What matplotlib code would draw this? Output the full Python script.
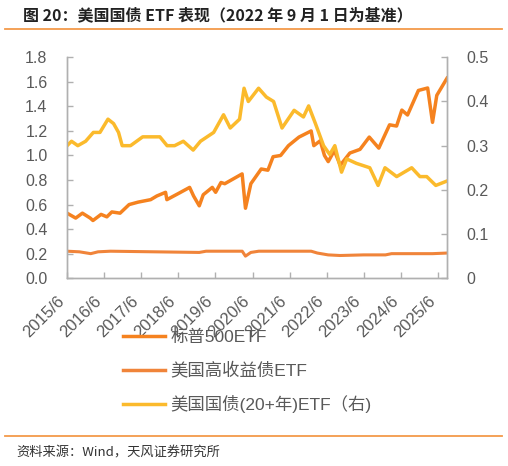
import matplotlib

matplotlib.use("Agg")
import matplotlib.pyplot as plt
import pandas as pd
from matplotlib.lines import Line2D

plt.rcParams["font.family"] = ["Liberation Sans", "Noto Sans CJK SC", "DejaVu Sans"]

# 标普500ETF (left axis)
spx_dates = [
    "2015-06-01", "2015-08-25", "2015-10-30", "2016-01-15", "2016-02-11", "2016-05-01",
    "2016-06-27", "2016-08-15", "2016-11-04", "2017-02-01", "2017-05-01", "2017-09-01",
    "2017-11-01", "2018-01-26", "2018-02-08", "2018-06-01", "2018-09-20", "2018-10-29",
    "2018-12-24", "2019-02-01", "2019-05-01", "2019-06-03", "2019-07-26", "2019-09-01",
    "2020-02-19", "2020-03-23", "2020-05-15", "2020-08-25", "2020-10-30", "2020-12-20",
    "2021-03-04", "2021-05-20", "2021-09-01", "2021-12-30", "2022-01-25", "2022-03-29",
    "2022-05-10", "2022-06-16", "2022-08-15", "2022-10-12", "2023-01-15", "2023-04-25",
    "2023-07-25", "2023-10-27", "2024-02-10", "2024-04-19", "2024-06-10", "2024-08-05",
    "2024-11-20", "2025-02-19", "2025-04-08", "2025-05-20", "2025-08-29",
]
spx_vals = [
    0.53, 0.49, 0.53, 0.49, 0.47, 0.52,
    0.50, 0.54, 0.53, 0.60, 0.62, 0.64,
    0.67, 0.70, 0.64, 0.69, 0.74, 0.67,
    0.59, 0.68, 0.74, 0.70, 0.78, 0.77,
    0.85, 0.57, 0.77, 0.89, 0.88, 0.99,
    1.00, 1.08, 1.15, 1.20, 1.08, 1.12,
    1.00, 0.95, 1.04, 0.92, 1.02, 1.05,
    1.15, 1.06, 1.25, 1.24, 1.37, 1.33,
    1.53, 1.55, 1.27, 1.49, 1.63,
]

# 美国高收益债ETF (left axis)
hy_dates = [
    "2015-06-01", "2015-10-01", "2016-01-20", "2016-04-01", "2016-08-01", "2018-12-24",
    "2019-03-01", "2020-02-20", "2020-03-23", "2020-05-15", "2020-08-01", "2021-12-30",
    "2022-03-01", "2022-06-15", "2022-10-10", "2023-06-01", "2024-01-01", "2024-03-01",
    "2025-04-08", "2025-08-29",
]
hy_vals = [
    0.22, 0.215, 0.20, 0.215, 0.22, 0.21,
    0.22, 0.22, 0.18, 0.21, 0.22, 0.22,
    0.205, 0.19, 0.185, 0.19, 0.19, 0.20,
    0.20, 0.205,
]

# 美国国债(20+年)ETF (right axis)
tlt_dates = [
    "2015-06-01", "2015-07-15", "2015-09-15", "2015-12-01", "2016-02-15", "2016-04-20",
    "2016-07-08", "2016-09-01", "2016-10-20", "2016-11-25", "2017-02-15", "2017-06-15",
    "2017-12-01", "2018-02-10", "2018-04-25", "2018-07-20", "2018-10-25", "2019-01-05",
    "2019-05-15", "2019-08-20", "2019-10-25", "2020-01-25", "2020-03-09", "2020-04-20",
    "2020-07-30", "2020-10-15", "2020-12-25", "2021-03-18", "2021-07-15", "2021-10-15",
    "2021-12-05", "2022-02-10", "2022-05-01", "2022-07-01", "2022-08-20", "2022-10-25",
    "2022-12-15", "2023-03-20", "2023-07-30", "2023-10-20", "2023-12-27", "2024-04-20",
    "2024-09-15", "2024-12-05", "2025-02-10", "2025-05-10", "2025-08-29",
]
tlt_vals = [
    0.30, 0.31, 0.30, 0.31, 0.33, 0.33,
    0.36, 0.35, 0.33, 0.30, 0.30, 0.32,
    0.32, 0.30, 0.30, 0.31, 0.29, 0.31,
    0.33, 0.37, 0.34, 0.36, 0.43, 0.40,
    0.43, 0.41, 0.40, 0.34, 0.38, 0.365,
    0.39, 0.35, 0.30, 0.28, 0.30, 0.24,
    0.27, 0.26, 0.25, 0.21, 0.25, 0.23,
    0.25, 0.23, 0.23, 0.21, 0.22,
]

left_ticks = [0.0, 0.2, 0.4, 0.6, 0.8, 1.0, 1.2, 1.4, 1.6, 1.8]
right_ticks = [0, 0.1, 0.2, 0.3, 0.4, 0.5]
right_labels = ["0", "0.1", "0.2", "0.3", "0.4", "0.5"]
x_tick_labels = [f"{y}/6" for y in range(2015, 2026)]

labels = ["标普500ETF", "美国高收益债ETF", "美国国债(20+年)ETF（右)"]
colors = ["#F5821F", "#F0843A", "#FBBA2C"]
grey = "#595959"
spine = "#B0B0B0"

fig = plt.figure(figsize=(5.08, 4.66), dpi=100)
ax = fig.add_axes([0.132, 0.403, 0.748, 0.474])
ax2 = ax.twinx()

ax.plot(pd.to_datetime(spx_dates), spx_vals, color=colors[0], lw=2.5)
ax.plot(pd.to_datetime(hy_dates), hy_vals, color=colors[1], lw=2.2)
ax2.plot(pd.to_datetime(tlt_dates), tlt_vals, color=colors[2], lw=2.5)

ax.set_xlim(pd.Timestamp("2015-06-01"), pd.Timestamp("2025-08-29"))
ax.set_ylim(0, 1.8)
ax2.set_ylim(0, 0.5)
ax.set_yticks(left_ticks)
ax.set_yticklabels([f"{v:.1f}" for v in left_ticks])
ax2.set_yticks(right_ticks)
ax2.set_yticklabels(right_labels)
ax.set_xticks(pd.to_datetime([f"{y}-06-01" for y in range(2015, 2026)]))
ax.set_xticklabels(x_tick_labels, rotation=45, ha="right")

for a in (ax, ax2):
    a.spines["top"].set_visible(False)
    for s in ("left", "right", "bottom"):
        a.spines[s].set_color(spine)
        a.spines[s].set_linewidth(1.0)
    a.tick_params(direction="in", length=4, width=1, color=spine, labelcolor=grey, labelsize=11.5)
ax.tick_params(axis="y", pad=14)
ax2.tick_params(axis="y", pad=14)
ax.tick_params(axis="x", pad=11, labelsize=12)

handles = [Line2D([], [], color=c, lw=2.5) for c in colors]
fig.legend(handles, labels, loc="upper left", bbox_to_anchor=(0.243, 0.293), frameon=False,
           fontsize=12.5, labelcolor=grey, handlelength=2.4, handletextpad=0.3, labelspacing=0.95,
           borderpad=0, borderaxespad=0)

fig.text(0.045, 0.967, "图 20：美国国债 ETF 表现（2022 年 9 月 1 日为基准）", fontsize=11.5,
         fontweight="bold", color="#222222", va="center", family=["Noto Sans CJK SC"])
fig.add_artist(Line2D([0.01, 0.988], [0.937, 0.937], color="#F39A4A", lw=1.3))
fig.add_artist(Line2D([0.01, 0.988], [0.064, 0.064], color="#F39A4A", lw=1.3))
fig.text(0.032, 0.028, "资料来源：Wind，天风证券研究所", fontsize=9.5, color="#333333", va="center",
         family=["Noto Sans CJK SC"])

fig.savefig("out.png", dpi=100)
